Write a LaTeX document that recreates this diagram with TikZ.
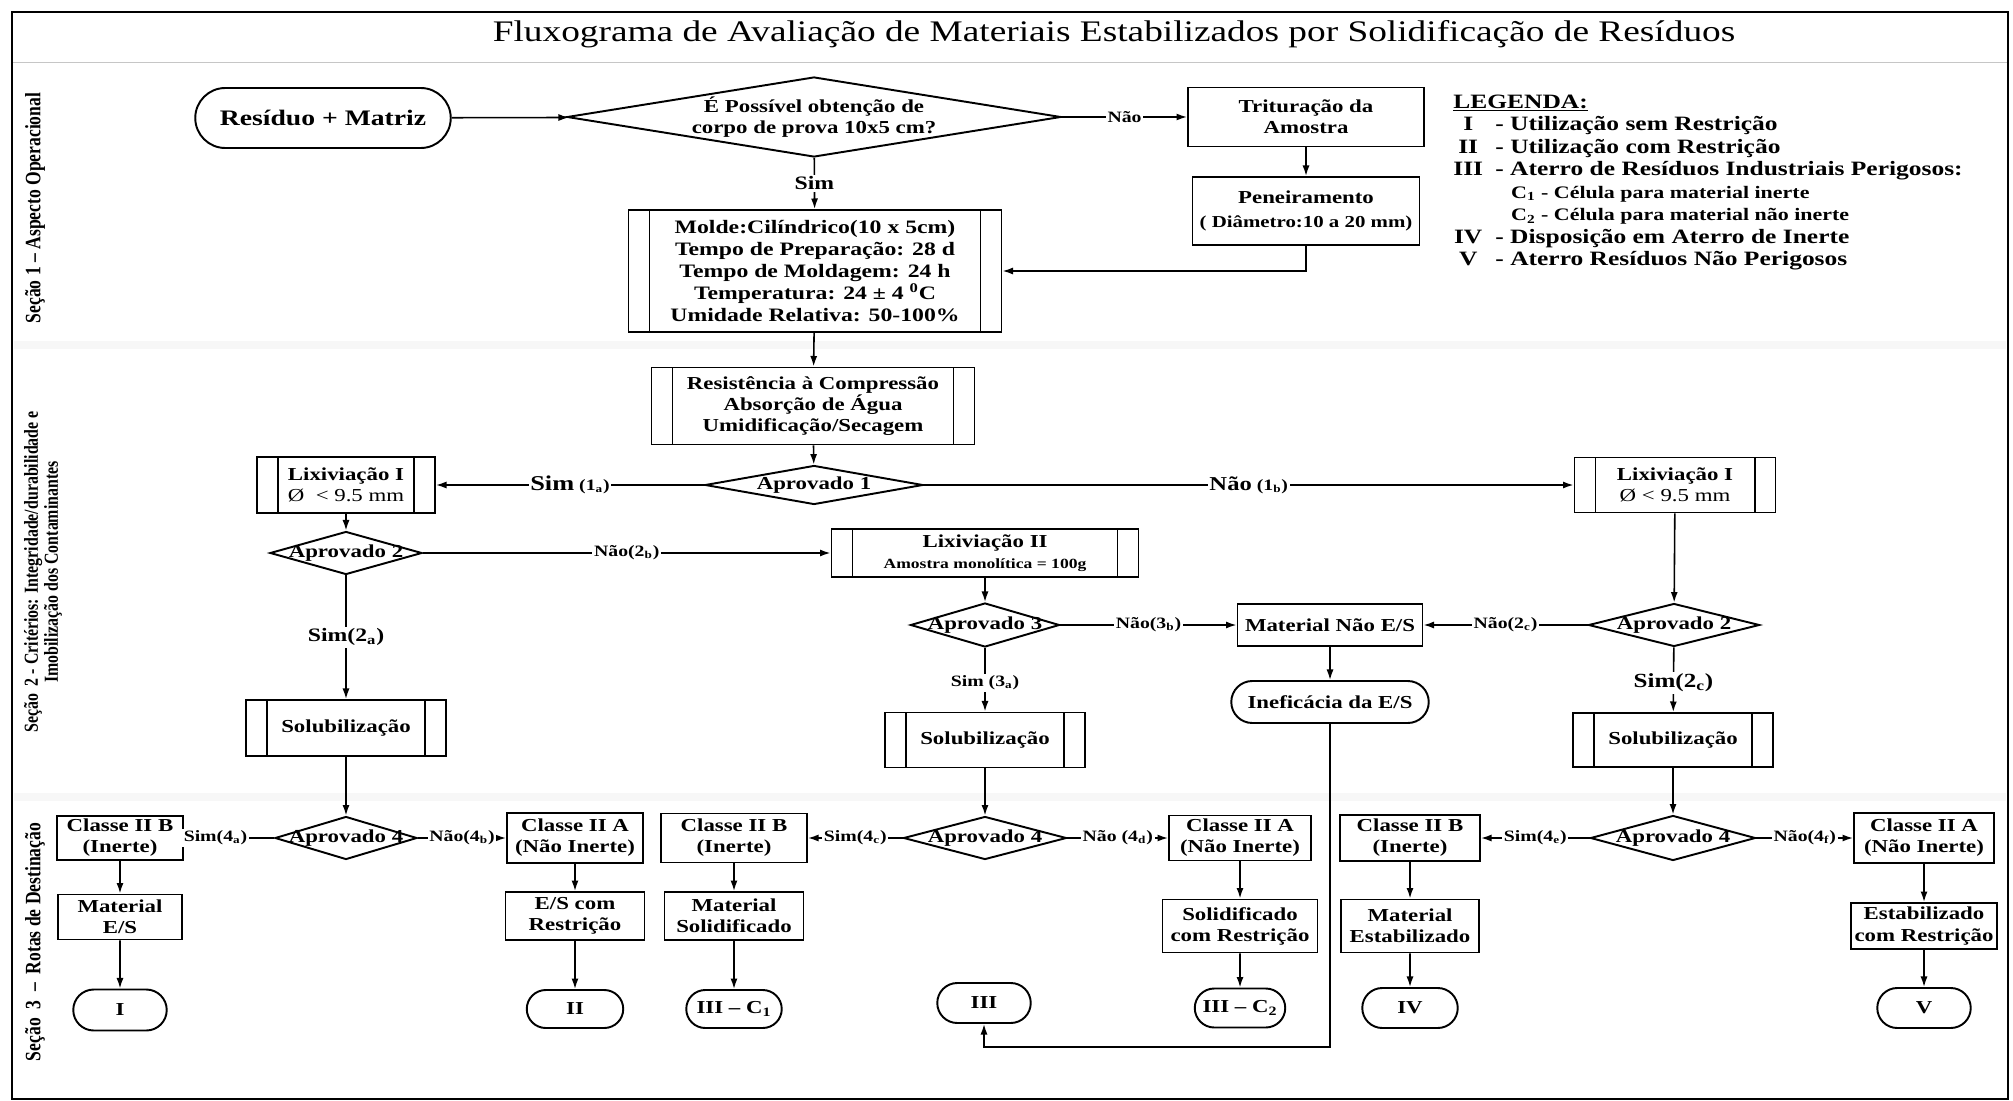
\documentclass[tikz,border=0pt]{standalone}
\usepackage{fontspec}
\setmainfont{Liberation Serif}[FakeStretch=1.25]
\newfontfamily\sidefont{Liberation Serif}[FakeStretch=0.8]
\usetikzlibrary{shapes.geometric,shapes.misc,arrows.meta,calc}
\newcommand{\fsz}[2]{\fontsize{#1}{#2}\selectfont}

\tikzset{
  >={Latex[length=6pt,width=4pt]},
  sz/.style 2 args={minimum width=#1*0.02cm, minimum height=#2*0.02cm},
  box/.style={draw, line width=1.1pt, fill=white, inner sep=1pt, align=center,
    font=\bfseries\fsz{10.4}{12}},
  proc/.style={box, path picture={
    \draw[line width=1.1pt]
      ([xshift=0.42cm]path picture bounding box.north west) -- ([xshift=0.42cm]path picture bounding box.south west)
      ([xshift=-0.42cm]path picture bounding box.north east) -- ([xshift=-0.42cm]path picture bounding box.south east);}},
  term/.style={box, rounded rectangle},
  dec/.style={diamond, draw, line width=1.1pt, fill=white, inner sep=0pt},
  dtxt/.style={align=center, inner sep=0pt, font=\bfseries\fsz{10.4}{12}},
  lbl/.style={fill=white, inner sep=1pt, font=\bfseries\fsz{9}{10}},
  lblb/.style={fill=white, inner sep=1pt, font=\bfseries\fsz{10.8}{12}},
  side/.style={rotate=90, align=center, font=\sidefont\bfseries\fsz{12.5}{13}},
  link/.style={line width=0.9pt, ->}
}

\begin{document}
\begin{tikzpicture}[x=0.02cm,y=-0.02cm]
\fill[white] (0,0) rectangle (2013,1101);
\useasboundingbox (0,0) rectangle (2013,1101);
\draw[gray!45] (12,62) -- (2008,62);
\draw[gray!6, line width=5pt] (14,345) -- (2006,345);
\draw[gray!6, line width=5pt] (14,797) -- (2006,797);
\draw[line width=1.2pt] (12,12) rectangle (2008,1099);

\node[font=\fsz{17}{20}] (title) at (1114,34) {Fluxograma de Avaliação de Materiais Estabilizados por Solidificação de Resíduos};

% secoes
\node[side] (sec1) at (35,208) {Seção 1 – Aspecto Operacional};
\node[side, font=\sidefont\bfseries\fsz{11.3}{9.5}] (sec2) at (43,572) {Seção\ \ 2 - Critérios: Integridade/durabilidade e\\Imobilização dos Contaminantes};
\node[side] (sec3) at (35,942) {Seção\ \ 3\ \ –\ \ Rotas de Destinação};

% secao 1
\node[term, sz={259}{60}, font=\bfseries\fsz{12.6}{14}] (res) at (323,118) {Resíduo + Matriz};
\node[dec, sz={494}{80}, label={[dtxt]center:É Possível obtenção de\\corpo de prova 10x5 cm?}] (q0) at (814,117) {};
\node[box, sz={236}{59}] (trit) at (1306,117) {Trituração da\\Amostra};
\node[box, sz={227}{68}] (pen) at (1306,211) {Peneiramento\\[2pt]{\fsz{9.5}{11}( Diâmetro:10 a 20 mm)}};
\node[proc, sz={373}{122}, font=\bfseries\fsz{10.8}{12.4}] (molde) at (815,271) {Molde:Cilíndrico(10 x 5cm)\\Tempo de Preparação: 28 d\\Tempo de Moldagem: 24 h\\Temperatura: 24 ± 4 \textsuperscript{0}C\\Umidade Relativa: 50-100\%};

% legenda
\node[anchor=north west, inner sep=0pt, font=\bfseries\fsz{11.6}{12.8}] (leg) at (1453,92) {%
\begin{tabular}{@{}c@{\hspace{7pt}}l@{}}
\multicolumn{2}{@{}l}{\underline{LEGENDA:}}\\
I & - Utilização sem Restrição\\
II & - Utilização com Restrição\\
III & - Aterro de Resíduos Industriais Perigosos:\\
 & \hspace{9pt}{\fsz{10}{12.8}C\textsubscript{1} - Célula para material inerte}\\
 & \hspace{9pt}{\fsz{10}{12.8}C\textsubscript{2} - Célula para material não inerte}\\
IV & - Disposição em Aterro de Inerte\\
V & - Aterro Resíduos Não Perigosos
\end{tabular}};

% secao 2
\node[proc, sz={323}{77}] (resis) at (813,406) {Resistência à Compressão\\Absorção de Água\\Umidificação/Secagem};
\node[dec, sz={218}{39}, label={[dtxt]center:Aprovado 1}] (ap1) at (814,485) {};
\node[proc, sz={178}{56}] (lixA) at (346,485) {Lixiviação I\\{\mdseries Ø\ \ < 9.5 mm}};
\node[proc, sz={201}{55}] (lixB) at (1675,485) {Lixiviação I\\{\mdseries Ø < 9.5 mm}};
\node[dec, sz={152}{43}, label={[dtxt]center:Aprovado 2}] (ap2a) at (346,553) {};
\node[proc, sz={307}{48}] (lixII) at (985,553) {Lixiviação II\\{\fsz{8}{9}Amostra monolítica = 100g}};
\node[dec, sz={149}{44}, label={[dtxt]center:Aprovado 3}] (ap3) at (985,625) {};
\node[box, sz={185}{42}] (matnao) at (1330,625) {Material Não E/S};
\node[term, sz={201}{42}] (inef) at (1330,702) {Ineficácia da E/S};
\node[dec, sz={171}{43}, label={[dtxt]center:Aprovado 2}] (ap2b) at (1674,625) {};
\node[proc, sz={200}{56}] (solA) at (346,728) {Solubilização};
\node[proc, sz={200}{55}] (solB) at (985,740) {Solubilização};
\node[proc, sz={200}{54}] (solC) at (1673,740) {Solubilização};

% secao 3
\node[dec, sz={142}{43}, label={[dtxt]center:Aprovado 4}] (ap4a) at (346,838) {};
\node[dec, sz={163}{43}, label={[dtxt]center:Aprovado 4}] (ap4b) at (985,838) {};
\node[dec, sz={165}{45}, label={[dtxt]center:Aprovado 4}] (ap4c) at (1673,838) {};
\node[box, sz={126}{44}] (c2bA) at (120,838) {Classe II B\\(Inerte)};
\node[box, sz={136}{50}] (c2aA) at (575,838) {Classe II A\\(Não Inerte)};
\node[box, sz={146}{49}] (c2bB) at (734,838) {Classe II B\\(Inerte)};
\node[box, sz={142}{45}] (c2aB) at (1240,838) {Classe II A\\(Não Inerte)};
\node[box, sz={140}{46}] (c2bC) at (1410,838) {Classe II B\\(Inerte)};
\node[box, sz={140}{50}] (c2aC) at (1924,838) {Classe II A\\(Não Inerte)};
\node[box, sz={124}{45}] (matES) at (120,917) {Material\\E/S};
\node[box, sz={139}{48}] (esR) at (575,916) {E/S com\\Restrição};
\node[box, sz={139}{48}] (matSol) at (734,916) {Material\\Solidificado};
\node[box, sz={155}{53}] (solR) at (1240,926) {Solidificado\\com Restrição};
\node[box, sz={138}{53}] (matEst) at (1410,926) {Material\\Estabilizado};
\node[box, sz={146}{46}] (estR) at (1924,926) {Estabilizado\\com Restrição};
\node[term, sz={97}{41}] (tI) at (120,1010) {I};
\node[term, sz={100}{38}] (tII) at (575,1009) {II};
\node[term, sz={99}{38}] (tC1) at (734,1009) {III – C\textsubscript{1}};
\node[term, sz={97}{40}] (tIII) at (984,1003) {III};
\node[term, sz={94}{39}] (tC2) at (1240,1008) {III – C\textsubscript{2}};
\node[term, sz={99}{40}] (tIV) at (1410,1008) {IV};
\node[term, sz={97}{40}] (tV) at (1924,1008) {V};
\coordinate (turn) at (1330,1047);

% ligacoes
\draw[link] (res) -- (q0);
\draw[link] (q0) -- node[lbl]{Não} (trit);
\draw[link] (q0) -- node[lblb]{Sim} (molde);
\draw[link] (trit) -- (pen);
\draw[link] (pen.south) |- (molde.east);
\draw[link] (molde) -- (resis);
\draw[link] (resis) -- (ap1);
\draw[link] (ap1) -- node[lbl]{{\fsz{12}{14}Sim} (1\textsubscript{a})} (lixA);
\draw[link] (ap1) -- node[lbl]{{\fsz{11.2}{13}Não} (1\textsubscript{b})} (lixB);
\draw[link] (lixA) -- (ap2a);
\draw[link] (ap2a) -- node[lbl]{Não(2\textsubscript{b})} (lixII);
\draw[link] (ap2a) -- node[lblb]{Sim(2\textsubscript{a})} (solA);
\draw[link] (lixII) -- (ap3);
\draw[link] (ap3) -- node[lbl]{Não(3\textsubscript{b})} (matnao);
\draw[link] (ap3) -- node[lbl, pos=0.55]{Sim (3\textsubscript{a})} (solB);
\draw[link] (matnao) -- (inef);
\draw[link] (lixB) -- (ap2b);
\draw[link] (ap2b) -- node[lbl]{Não(2\textsubscript{c})} (matnao);
\draw[link] (ap2b) -- node[lblb, font=\bfseries\fsz{11.4}{13}, pos=0.55]{Sim(2\textsubscript{c})} (solC);
\draw[link] (solA) -- (ap4a);
\draw[link] (solB) -- (ap4b);
\draw[link] (solC) -- (ap4c);
\draw[link] (ap4a) -- node[lbl, pos=0.65]{Sim(4\textsubscript{a})} (c2bA);
\draw[link] (ap4a) -- node[lbl]{Não(4\textsubscript{b})} (c2aA);
\draw[link] (ap4b) -- node[lbl]{Sim(4\textsubscript{c})} (c2bB);
\draw[link] (ap4b) -- node[lbl]{Não (4\textsubscript{d})} (c2aB);
\draw[link] (ap4c) -- node[lbl]{Sim(4\textsubscript{e})} (c2bC);
\draw[link] (ap4c) -- node[lbl]{Não(4\textsubscript{f})} (c2aC);
\draw[link] (c2bA) -- (matES);
\draw[link] (matES) -- (tI);
\draw[link] (c2aA) -- (esR);
\draw[link] (esR) -- (tII);
\draw[link] (c2bB) -- (matSol);
\draw[link] (matSol) -- (tC1);
\draw[link] (c2aB) -- (solR);
\draw[link] (solR) -- (tC2);
\draw[link] (c2bC) -- (matEst);
\draw[link] (matEst) -- (tIV);
\draw[link] (c2aC) -- (estR);
\draw[link] (estR) -- (tV);
\draw[link] (inef.south) -- (turn) -| (tIII.south);
\end{tikzpicture}
\end{document}
